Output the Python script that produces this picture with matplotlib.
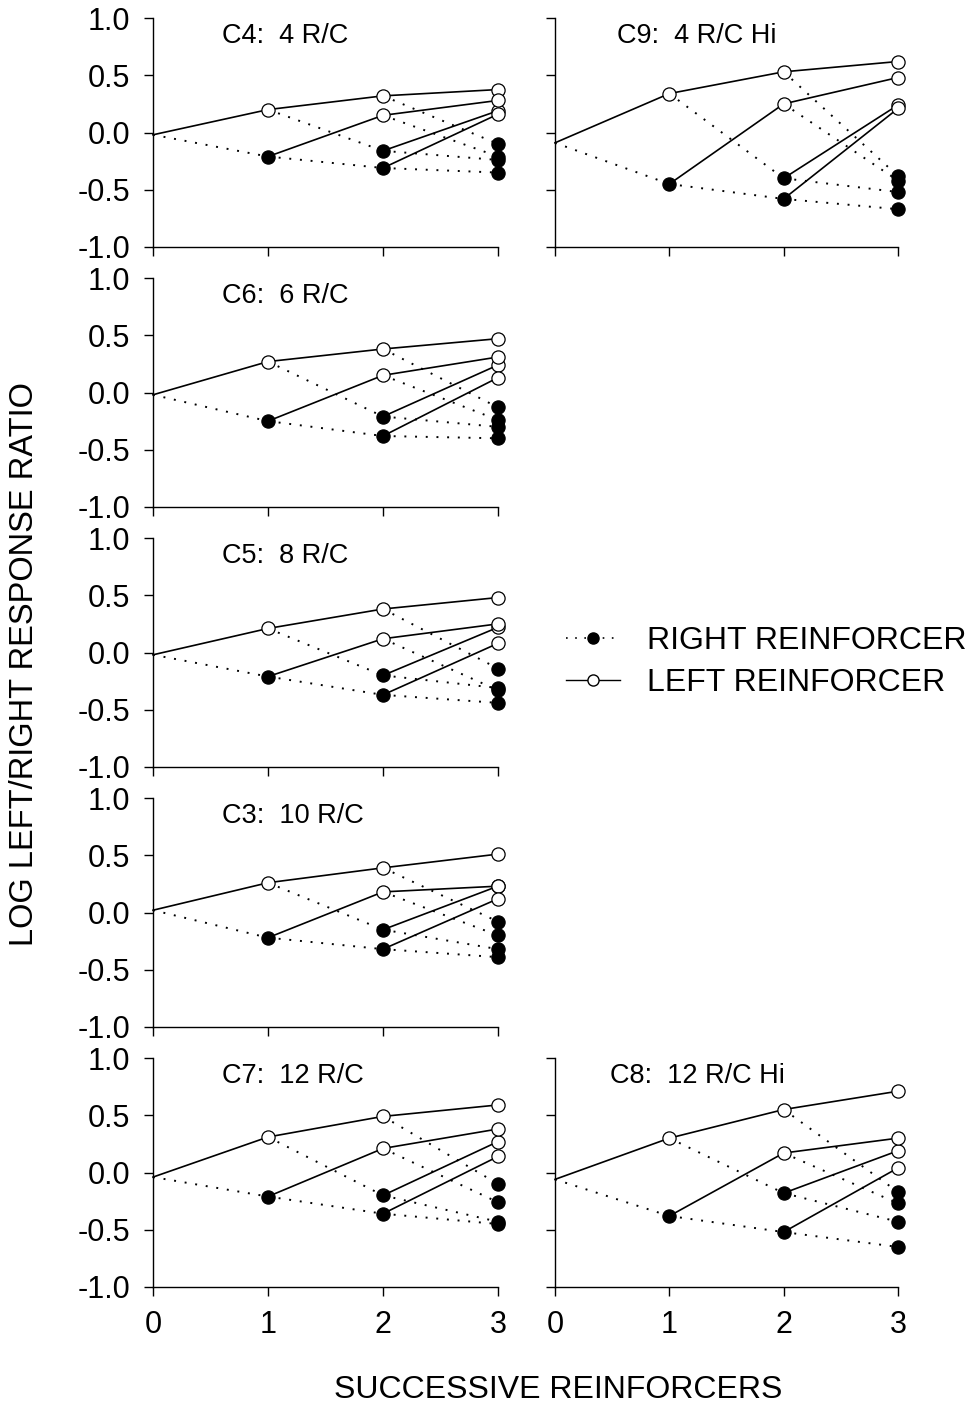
import matplotlib
matplotlib.use("Agg")
import matplotlib.pyplot as plt
from matplotlib.lines import Line2D

plt.rcParams['font.family'] = ['Liberation Sans', 'DejaVu Sans']

# panel titles, in order: C4, C9, C6, C5, C3, C7, C8
titles = ["C4:  4 R/C", "C9:  4 R/C Hi", "C6:  6 R/C", "C5:  8 R/C",
          "C3:  10 R/C", "C7:  12 R/C", "C8:  12 R/C Hi"]

# log L/R response ratio before any reinforcer
start = [-0.02, -0.09, -0.02, -0.02, 0.02, -0.04, -0.06]

# after 1 reinforcer: [L, R]
after1 = [
    [0.20, -0.21],
    [0.34, -0.45],
    [0.27, -0.25],
    [0.21, -0.21],
    [0.26, -0.22],
    [0.31, -0.21],
    [0.30, -0.38],
]

# after 2 reinforcers: [LL, LR, RL, RR]
after2 = [
    [0.32, -0.16, 0.15, -0.31],
    [0.53, -0.40, 0.25, -0.58],
    [0.38, -0.21, 0.15, -0.38],
    [0.38, -0.20, 0.12, -0.37],
    [0.39, -0.15, 0.18, -0.32],
    [0.49, -0.20, 0.21, -0.36],
    [0.55, -0.18, 0.17, -0.52],
]

# after 3 reinforcers: [LLL, LLR, LRL, LRR, RLL, RLR, RRL, RRR]
after3 = [
    [0.375, -0.10, 0.19, -0.24, 0.28, -0.21, 0.16, -0.35],
    [0.62, -0.38, 0.24, -0.52, 0.48, -0.42, 0.21, -0.67],
    [0.47, -0.13, 0.24, -0.30, 0.31, -0.24, 0.13, -0.40],
    [0.48, -0.14, 0.22, -0.31, 0.25, -0.33, 0.08, -0.44],
    [0.51, -0.08, 0.23, -0.32, 0.23, -0.20, 0.12, -0.39],
    [0.59, -0.10, 0.27, -0.43, 0.38, -0.26, 0.14, -0.45],
    [0.71, -0.17, 0.19, -0.43, 0.30, -0.27, 0.04, -0.65],
]

# (row, col) of each panel in the grid
slots = [(0, 0), (0, 1), (1, 0), (2, 0), (3, 0), (4, 0), (4, 1)]
title_x = [0.20, 0.18, 0.20, 0.20, 0.20, 0.20, 0.16]

W, H = 977, 1407
fig = plt.figure(figsize=(W / 100, H / 100), dpi=100)

col_left = [153, 555]
col_width = [345, 343]
row_top = [18, 278, 538, 798, 1058]
row_h = 229

dot_style = (0, (1, 4.5))
ms = 9.5


def edge(ax, x0, y0, x1, y1, to_left):
    if to_left:
        ax.plot([x0, x1], [y0, y1], color='black', lw=1.2, ls='-', zorder=2,
                clip_on=False)
    else:
        ax.plot([x0, x1], [y0, y1], color='black', lw=1.4, ls=dot_style,
                zorder=2, clip_on=False)


def node(ax, x, y, to_left):
    if to_left:
        ax.plot(x, y, 'o', ms=ms, mfc='white', mec='black', mew=0.9,
                zorder=4, clip_on=False)
    else:
        ax.plot(x, y, 'o', ms=ms, mfc='black', mec='black', mew=0.9,
                zorder=4, clip_on=False)


for i, (r, c) in enumerate(slots):
    left = col_left[c] / W
    width = col_width[c] / W
    bottom = 1 - (row_top[r] + row_h) / H
    ax = fig.add_axes([left, bottom, width, row_h / H])

    lvl = [[start[i]], after1[i], after2[i], after3[i]]
    for k in range(1, 4):
        for j, v in enumerate(lvl[k]):
            parent = lvl[k - 1][j // 2]
            is_left = (j % 2 == 0)
            edge(ax, k - 1, parent, k, v, is_left)
            node(ax, k, v, is_left)

    ax.set_xlim(0, 3)
    ax.set_ylim(-1.0, 1.0)
    ax.set_xticks([0, 1, 2, 3])
    ax.set_yticks([-1.0, -0.5, 0.0, 0.5, 1.0])
    ax.spines['top'].set_visible(False)
    ax.spines['right'].set_visible(False)
    ax.spines['left'].set_linewidth(1.0)
    ax.spines['bottom'].set_linewidth(1.0)
    ax.tick_params(direction='out', length=6.5, width=1.0, labelsize=22, pad=10)

    if c == 0:
        ax.set_yticklabels(['-1.0', '-0.5', '0.0', '0.5', '1.0'])
    else:
        ax.set_yticklabels([])
    if r == 4:
        ax.set_xticklabels(['0', '1', '2', '3'])
    else:
        ax.set_xticklabels([])

    ax.text(title_x[i], 0.92, titles[i], transform=ax.transAxes,
            fontsize=19.5, ha='left', va='center')

fig.text(25 / W, 1 - 664 / H, 'LOG LEFT/RIGHT RESPONSE RATIO', rotation=90,
         fontsize=23.5, ha='center', va='center')
fig.text(558 / W, 1 - 1390 / H, 'SUCCESSIVE REINFORCERS',
         fontsize=23, ha='center', va='center')

handles = [
    Line2D([], [], color='black', lw=1.2, ls=dot_style, marker='o', ms=8,
           mfc='black', mec='black'),
    Line2D([], [], color='black', lw=1.0, ls='-', marker='o', ms=8,
           mfc='white', mec='black'),
]
fig.legend(handles, ['RIGHT REINFORCER', 'LEFT REINFORCER'],
           loc='upper left', bbox_to_anchor=(566 / W, 1 - 626 / H),
           frameon=False, fontsize=23, handlelength=1.7,
           handletextpad=0.85, labelspacing=0.38, borderpad=0,
           borderaxespad=0)

fig.savefig('out.png', dpi=100)
